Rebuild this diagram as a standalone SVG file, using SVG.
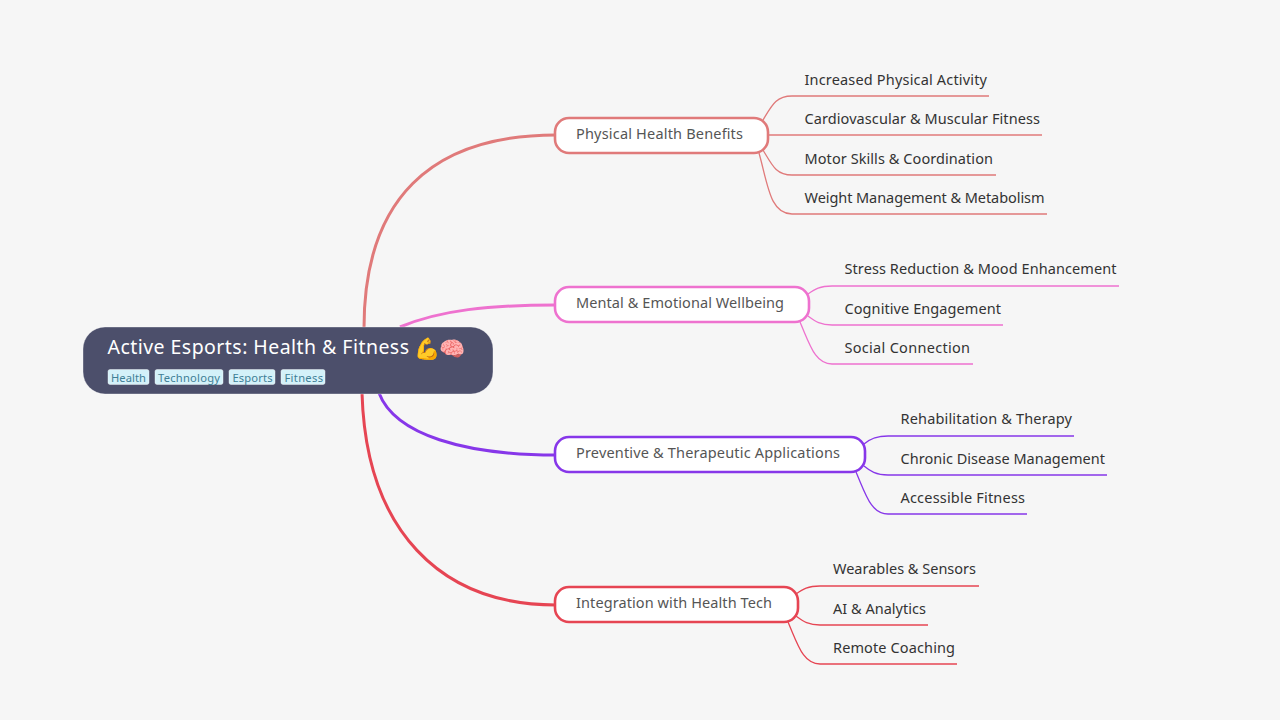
<svg xmlns="http://www.w3.org/2000/svg" width="1280" height="720" viewBox="0 0 1280 720">
<style>
text{font-family:"Noto Sans","Open Sans",sans-serif}
.m{fill:none;stroke-width:3}
.s{fill:none;stroke-width:1.3}
.b{fill:#fff;stroke-width:2.6}
.bt{font-size:14.5px;fill:#555}
.lt{font-size:14.5px;fill:#333}
.tag{fill:#d4f1f9;stroke:#fff;stroke-opacity:.4}
.tt{font-size:11.200px;fill:#3f7f96}
.r{stroke:#e07a7a}.p{stroke:#ee72cf}.v{stroke:#8737e9}.c{stroke:#e64553}
</style>
<rect width="1280" height="720" fill="#f6f6f6"/>
<g id="connectors">
<path class="m r" d="M364 328C364 200 430 135 556 135"/>
<path class="m p" d="M400 327C440 310 490 305 556 305"/>
<path class="m v" d="M379 393C395 435 465 455 556 455"/>
<path class="m c" d="M362 393C366 530 440 605 556 605"/>
<path class="s r" d="M763 120C772 105 776 96 792 96H989"/>
<path class="s r" d="M768 135H1042"/>
<path class="s r" d="M763 150C772 165 776 175 792 175H996"/>
<path class="s r" d="M759 153C768 185 770 214 792 214H1047"/>
<path class="s p" d="M808 294C815 289 820 286 832 286H1119"/>
<path class="s p" d="M808 316C815 321 820 325 832 325H1003"/>
<path class="s p" d="M800 322C810 345 815 364 832 364H973"/>
<path class="s v" d="M864 444C870 439 876 436 888 436H1074"/>
<path class="s v" d="M864 466C870 471 876 475 888 475H1107"/>
<path class="s v" d="M856 472C866 495 871 514 888 514H1027"/>
<path class="s c" d="M796 594C803 589 808 586 820 586H979"/>
<path class="s c" d="M796 616C803 621 808 625 820 625H928"/>
<path class="s c" d="M788 622C798 645 803 664 820 664H957"/>
</g>
<g id="root">
<rect x="83" y="327" width="410" height="67" rx="22" fill="#4c4f6b" stroke="#fff" stroke-opacity=".35" stroke-width="1"/>
<text x="107.500" y="354" font-size="19.5" fill="#fff" textLength="301.500">Active Esports: Health &amp; Fitness</text>
<text x="414" y="356" font-size="21" fill="#fff">💪</text><text x="439" y="356" font-size="21" fill="#fff">🧠</text>
<rect class="tag" x="108" y="369.500" width="41" height="15" rx="2"/><text class="tt" x="111" y="382" textLength="35">Health</text>
<rect class="tag" x="155" y="369.500" width="68" height="15" rx="2"/><text class="tt" x="158" y="382" textLength="62">Technology</text>
<rect class="tag" x="229" y="369.500" width="46" height="15" rx="2"/><text class="tt" x="232.500" y="382" textLength="40">Esports</text>
<rect class="tag" x="281" y="369.500" width="44" height="15" rx="2"/><text class="tt" x="284.500" y="382" textLength="38.500">Fitness</text>
</g>
<g id="n1"><rect class="b r" x="555" y="118" width="213" height="35" rx="14"/><text class="bt" x="576" y="138.500" textLength="167">Physical Health Benefits</text></g>
<g id="n2"><rect class="b p" x="555" y="287" width="254" height="35" rx="14"/><text class="bt" x="576" y="308" textLength="208">Mental &amp; Emotional Wellbeing</text></g>
<g id="n3"><rect class="b v" x="555" y="437" width="310" height="35" rx="14"/><text class="bt" x="576" y="458" textLength="264">Preventive &amp; Therapeutic Applications</text></g>
<g id="n4"><rect class="b c" x="555" y="587" width="243" height="35" rx="14"/><text class="bt" x="576" y="608" textLength="196">Integration with Health Tech</text></g>
<g id="l11"><text class="lt" x="804.500" y="85" textLength="182.500">Increased Physical Activity</text></g>
<g id="l12"><text class="lt" x="804.500" y="124" textLength="235.500">Cardiovascular &amp; Muscular Fitness</text></g>
<g id="l13"><text class="lt" x="804.500" y="163.500" textLength="188.500">Motor Skills &amp; Coordination</text></g>
<g id="l14"><text class="lt" x="804.500" y="203" textLength="240">Weight Management &amp; Metabolism</text></g>
<g id="l21"><text class="lt" x="844.500" y="274" textLength="272">Stress Reduction &amp; Mood Enhancement</text></g>
<g id="l22"><text class="lt" x="844.500" y="313.500" textLength="156.500">Cognitive Engagement</text></g>
<g id="l23"><text class="lt" x="844.500" y="353" textLength="125.500">Social Connection</text></g>
<g id="l31"><text class="lt" x="900.500" y="424" textLength="171.500">Rehabilitation &amp; Therapy</text></g>
<g id="l32"><text class="lt" x="900.500" y="463.500" textLength="204.500">Chronic Disease Management</text></g>
<g id="l33"><text class="lt" x="900.500" y="503" textLength="124.500">Accessible Fitness</text></g>
<g id="l41"><text class="lt" x="833" y="574" textLength="143">Wearables &amp; Sensors</text></g>
<g id="l42"><text class="lt" x="833" y="613.500" textLength="93">AI &amp; Analytics</text></g>
<g id="l43"><text class="lt" x="833" y="653" textLength="122">Remote Coaching</text></g>
</svg>
